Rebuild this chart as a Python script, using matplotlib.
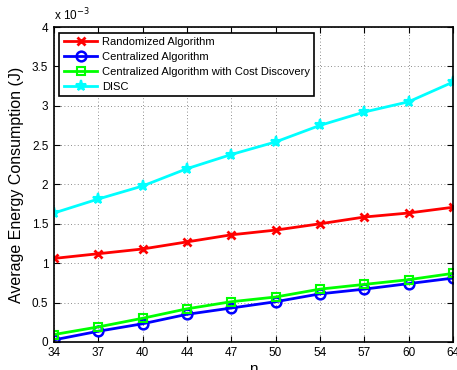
import matplotlib
matplotlib.use("Agg")
import matplotlib.pyplot as plt
import numpy as np

# node counts (evenly spaced categories on the x axis)
n_values = [34, 37, 40, 44, 47, 50, 54, 57, 60, 64]

# average energy consumption, in units of 1e-3 J
randomized = [1.06, 1.12, 1.18, 1.27, 1.36, 1.42, 1.50, 1.586, 1.637, 1.71]
centralized = [0.025, 0.135, 0.23, 0.35, 0.43, 0.51, 0.61, 0.67, 0.74, 0.81]
centralized_cd = [0.093, 0.19, 0.30, 0.42, 0.51, 0.57, 0.67, 0.73, 0.79, 0.87]
disc = [1.637, 1.815, 1.98, 2.20, 2.38, 2.54, 2.75, 2.92, 3.05, 3.30]

plt.rcParams['font.family'] = ['Liberation Sans', 'DejaVu Sans']

fig = plt.figure(figsize=(4.57, 3.70), dpi=100)
ax = fig.add_axes([0.118, 0.076, 0.873, 0.851])

x = np.arange(len(n_values))
ax.plot(x, randomized, color='red', lw=2, marker='x', ms=6, mew=2,
        label='Randomized Algorithm')
ax.plot(x, centralized, color='blue', lw=2, marker='o', ms=7, mew=1.8,
        mfc='none', label='Centralized Algorithm')
ax.plot(x, centralized_cd, color='#00ff00', lw=2, marker='s', ms=6, mew=1.5,
        mfc='none', label='Centralized Algorithm with Cost Discovery')
ax.plot(x, disc, color='cyan', lw=2, marker='*', ms=8, mew=1.5,
        label='DISC')

ax.set_xlim(0, len(n_values) - 1)
ax.set_ylim(0, 4)
ax.set_xticks(x)
ax.set_xticklabels([str(v) for v in n_values])
ax.set_yticks(np.arange(0, 4.01, 0.5))
ax.set_yticklabels(['0', '0.5', '1', '1.5', '2', '2.5', '3', '3.5', '4'])
ax.tick_params(direction='in', top=True, right=True, labelsize=8.5,
               length=4, width=0.8, pad=4)
ax.grid(True, linestyle=(0, (1, 3)), color='black', lw=0.6, alpha=0.6)
for s in ax.spines.values():
    s.set_linewidth(1.2)

ax.set_xlabel('n', fontsize=11, labelpad=2)
ax.set_ylabel('Average Energy Consumption (J)', fontsize=11.5, labelpad=6)
ax.text(0.0, 1.012, r'x 10$^{-3}$', transform=ax.transAxes, fontsize=8.5,
        ha='left', va='bottom')

leg = ax.legend(loc='upper left', fontsize=8, frameon=True, fancybox=False,
                edgecolor='black', borderaxespad=0.5, handlelength=3.0,
                labelspacing=0.45, borderpad=0.4, handletextpad=0.4)
leg.get_frame().set_linewidth(1.2)
leg.get_frame().set_alpha(1)

fig.savefig('out.png', dpi=100)
